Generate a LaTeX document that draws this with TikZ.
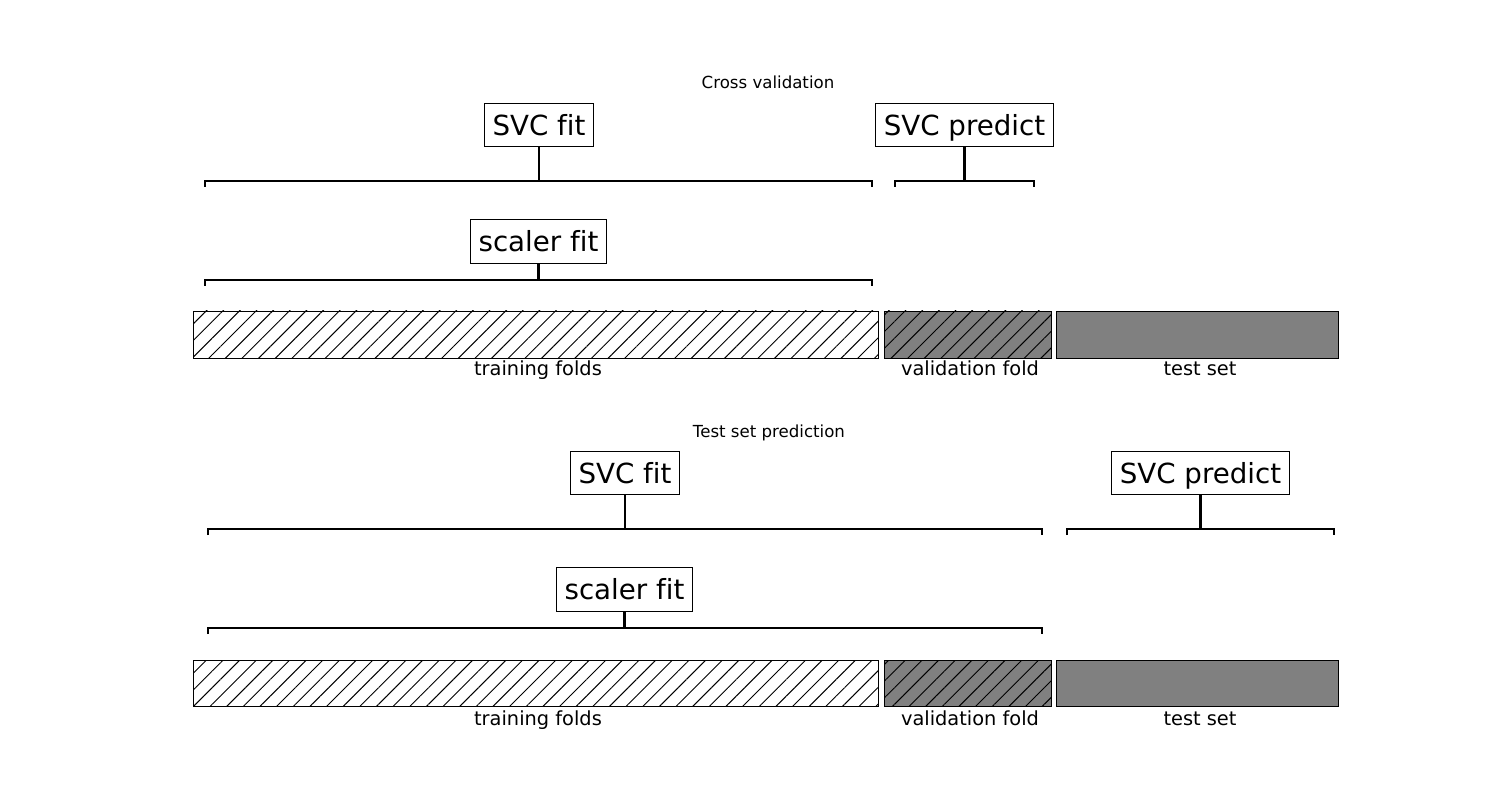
\documentclass[tikz,border=0pt]{standalone}
\usepackage{fontspec}
\setmainfont{DejaVu Sans}[RawFeature={-liga}]
\usetikzlibrary{calc,patterns.meta}
\tikzset{
  box/.style={draw, line width=0.7pt, font=\fontsize{20}{24}\selectfont,
    inner xsep=6pt, inner ysep=6pt, text height=17.1pt, text depth=2.6pt},
  ttl/.style={font=\fontsize{12}{14}\selectfont, anchor=base},
  lbl/.style={font=\fontsize{14}{17}\selectfont, anchor=base},
  brk/.style={line width=1.5pt},
  fold/.style={draw, line width=0.7pt},
  hatch/.style={pattern={Lines[angle=45,distance=8.5pt,line width=0.7pt]}},
}
% bracket between two named coordinates, ends bent down
\def\bracket(#1)(#2){\draw[brk] ($(#1)+(0,6)$) -- (#1) -- (#2) -- ($(#2)+(0,6)$);}

\begin{document}
\begin{tikzpicture}[x=0.01in, y=-0.01in]
		\useasboundingbox (0, 0) rectangle (1500, 800);
		%%%%% CROSS VALIDATION %%%%%
		\node[ttl] (titleA) at (768, 89) {Cross validation};
		
		\node[box] (svcfitA) at (539, 125) {SVC fit};
		\node[box] (svcpredA) at (964.5, 125) {SVC predict};
		\node[box] (scalerA) at (538.5, 241.5) {scaler fit};
		
		\coordinate (fitAl) at (205, 181);
		\coordinate (fitAr) at (872, 181);
		\bracket(fitAl)(fitAr)
		\draw[brk] (svcfitA.south) -- (svcfitA.south |- fitAl);
		
		\coordinate (predAl) at (895, 181);
		\coordinate (predAr) at (1034, 181);
		\bracket(predAl)(predAr)
		\draw[brk] (svcpredA.south) -- (svcpredA.south |- predAl);
		
		\coordinate (scaAl) at (205, 280);
		\coordinate (scaAr) at (872, 280);
		\bracket(scaAl)(scaAr)
		\draw[brk] (scalerA.south) -- (scalerA.south |- scaAl);
		
		\draw[fold, hatch] (193, 311) rectangle (878, 358);
		\draw[fold, preaction={fill=gray}, hatch] (884, 311) rectangle (1051, 358);
		\draw[fold, fill=gray] (1056, 311) rectangle (1338, 358);
		
		\node[lbl] (trainA) at (538, 376) {training folds};
		\node[lbl] (valA) at (970, 376) {validation fold};
		\node[lbl] (testA) at (1200, 376) {test set};
		
		%%%%% TEST SET PREDICTION %%%%%
		\node[ttl] (titleB) at (769, 437) {Test set prediction};
		
		\node[box] (svcfitB) at (625, 473) {SVC fit};
		\node[box] (svcpredB) at (1200.5, 473) {SVC predict};
		\node[box] (scalerB) at (624.5, 589.5) {scaler fit};
		
		\coordinate (fitBl) at (208, 529);
		\coordinate (fitBr) at (1042, 529);
		\bracket(fitBl)(fitBr)
		\draw[brk] (svcfitB.south) -- (svcfitB.south |- fitBl);
		
		\coordinate (predBl) at (1067, 529);
		\coordinate (predBr) at (1334, 529);
		\bracket(predBl)(predBr)
		\draw[brk] (svcpredB.south) -- (svcpredB.south |- predBl);
		
		\coordinate (scaBl) at (208, 628);
		\coordinate (scaBr) at (1042, 628);
		\bracket(scaBl)(scaBr)
		\draw[brk] (scalerB.south) -- (scalerB.south |- scaBl);
		
		\draw[fold, hatch] (193, 660) rectangle (878, 706);
		\draw[fold, preaction={fill=gray}, hatch] (884, 660) rectangle (1051, 706);
		\draw[fold, fill=gray] (1056, 660) rectangle (1338, 706);
		
		\node[lbl] (trainB) at (538, 725) {training folds};
		\node[lbl] (valB) at (970, 725) {validation fold};
		\node[lbl] (testB) at (1200, 725) {test set};
		%%%%% END %%%%%
\end{tikzpicture}
\end{document}
